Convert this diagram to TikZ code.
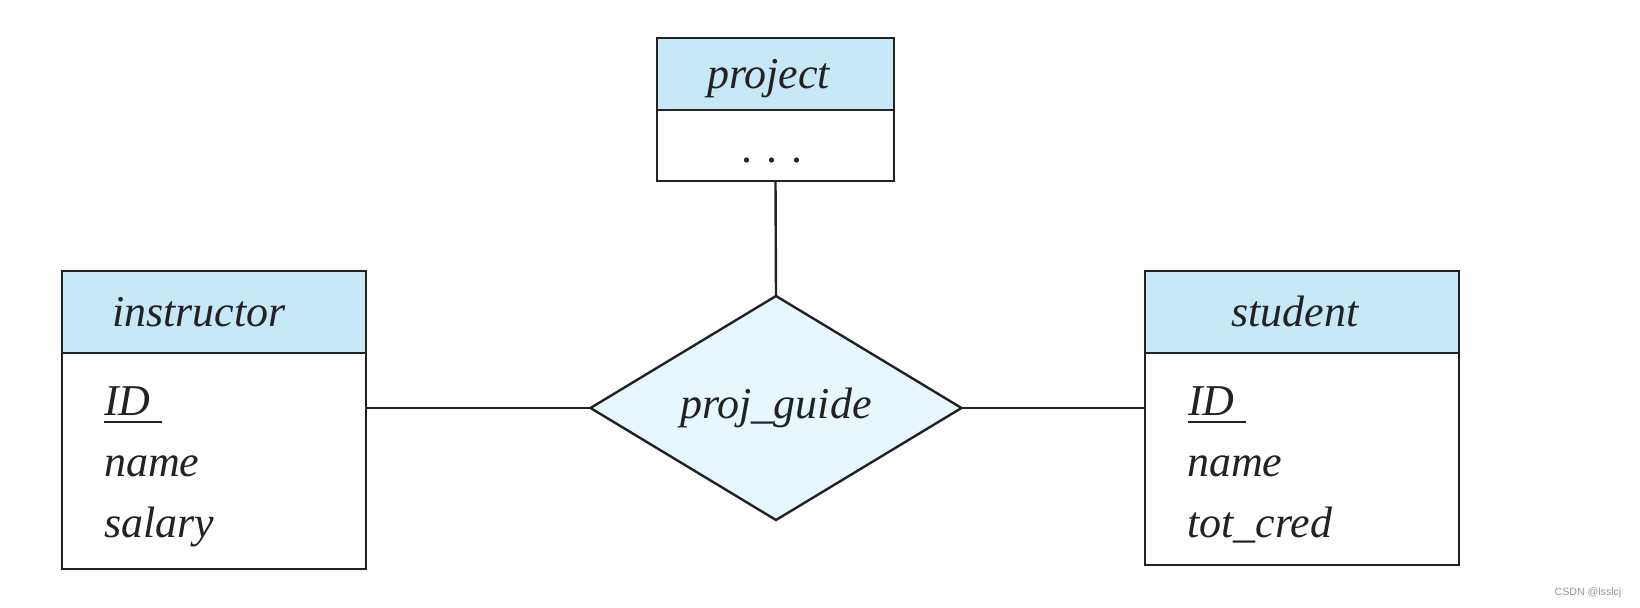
\documentclass[tikz,border=0pt]{standalone}
\usepackage{fontspec}
\setmainfont{Liberation Serif}
\newfontfamily\wmfont{Liberation Sans}
\usetikzlibrary{shapes.geometric}
\definecolor{hdrblue}{RGB}{198,232,247}
\definecolor{relblue}{RGB}{232,246,253}
\definecolor{ink}{RGB}{34,34,34}
\definecolor{wmgray}{RGB}{150,150,150}
\newcommand{\keyattr}[1]{\rlap{\color{ink}\rule[-3.6pt]{29pt}{1pt}}#1}
\begin{document}
\begin{tikzpicture}[x=0.5pt,y=-0.5pt,line width=1.2pt,
  hdr/.style={draw=ink, fill=hdrblue, anchor=north west, inner sep=0pt, outer sep=0pt},
  body/.style={draw=ink, fill=white, anchor=north west, inner sep=0pt, outer sep=0pt},
  lbl/.style={anchor=base west, inner sep=0pt, font=\fontsize{22}{26}\selectfont\itshape, text=ink},
  rel/.style={diamond, draw=ink, fill=relblue, aspect=1.656, inner sep=1pt, outer sep=0pt,
    minimum width=185.5pt, minimum height=112pt, font=\fontsize{22}{26}\selectfont\itshape, text=ink},
  link/.style={draw=ink, line width=1.2pt}]
\useasboundingbox[fill=white] (0,0) rectangle (1640,608);

% instructor
\node[body, minimum width=152pt, minimum height=108pt] (instbody) at (62,353) {};
\node[hdr, minimum width=152pt, minimum height=41pt] (insthdr) at (62,271) {};
\node[lbl] (insttitle) at (111,327) {instructor};
\node[lbl] (instid) at (103,416) {\keyattr{ID}};
\node[lbl] (instname) at (103,477) {name};
\node[lbl] (instsal) at (103,538) {salary};

% student
\node[body, minimum width=157pt, minimum height=106pt] (studbody) at (1145,353) {};
\node[hdr, minimum width=157pt, minimum height=41pt] (studhdr) at (1145,271) {};
\node[lbl] (studtitle) at (1230,327) {student};
\node[lbl] (studid) at (1187,416) {\keyattr{ID}};
\node[lbl] (studname) at (1186,477) {name};
\node[lbl] (studcred) at (1186,538) {tot\_cred};

% project
\node[body, minimum width=118.5pt, minimum height=35.5pt] (projbody) at (657,110) {};
\node[hdr, minimum width=118.5pt, minimum height=36pt] (projhdr) at (657,38) {};
\node[lbl] (projtitle) at (706,89) {project};
\node[anchor=base, inner sep=0pt, font=\fontsize{22}{26}\selectfont, text=ink] (projdots) at (772,163) {.\hspace{0.32em}.\hspace{0.32em}.};

% relationship
\node[rel] (rel) at (776,408) {proj\_guide};

% connectors
\draw[link] (instbody.east |- rel.west) -- (rel.west);
\draw[link] (rel.east) -- (rel.east -| studbody.west);
\draw[link] (projbody.south) -- (rel.north);

% watermark
\node[inner sep=0pt, font=\wmfont\fontsize{5.3}{6}\selectfont, text=wmgray] (wm) at (1588,593) {CSDN @lsslcj};
\end{tikzpicture}
\end{document}
